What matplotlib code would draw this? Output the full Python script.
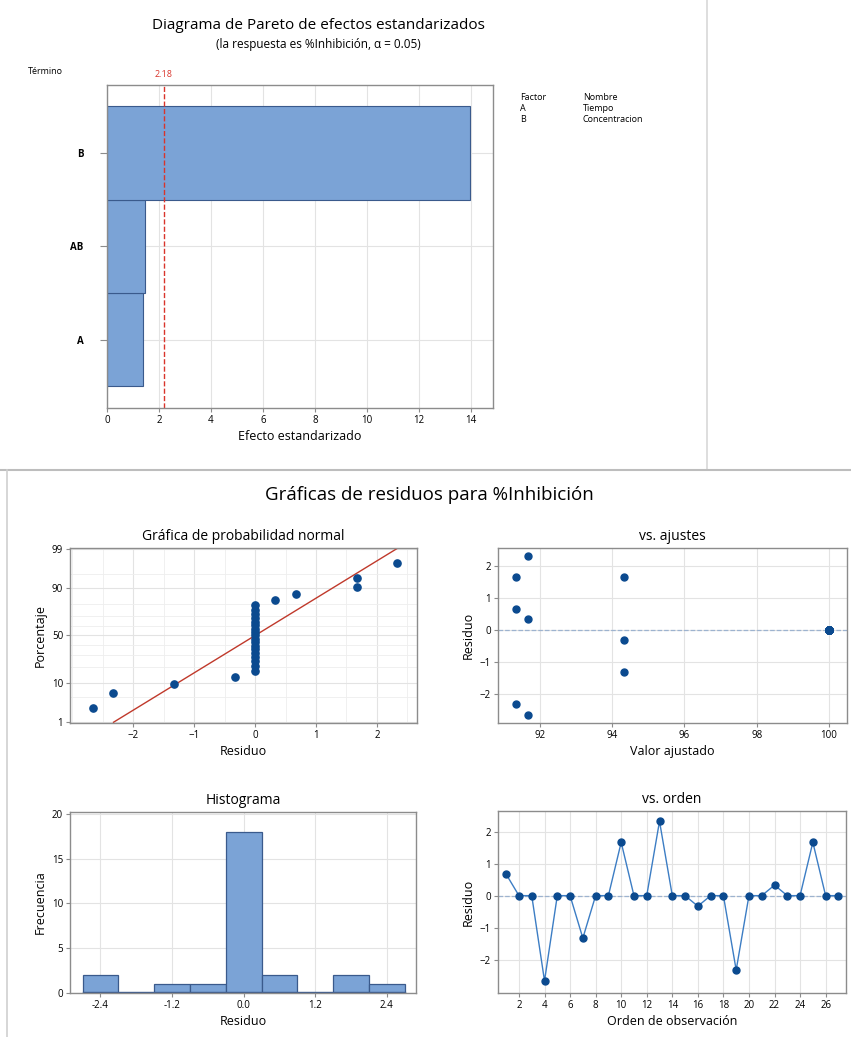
import numpy as np
import matplotlib
matplotlib.use("Agg")
import matplotlib.pyplot as plt
from matplotlib.lines import Line2D
from statistics import NormalDist

plt.rcParams['font.family'] = ['Open Sans', 'DejaVu Sans']

# Pareto data
terms = ['A', 'AB', 'B']
effects = [1.38, 1.45, 13.95]
t_crit = 2.18

# residuals in observation order (27 runs)
residuals = [0.67, 0.0, 0.0, -2.67, 0.0, 0.0, -1.33, 0.0, 0.0,
             1.67, 0.0, 0.0, 2.33, 0.0, 0.0, -0.33, 0.0, 0.0,
             -2.33, 0.0, 0.0, 0.33, 0.0, 0.0, 1.67, 0.0, 0.0]
fitted = [91.33, 100.0, 100.0, 91.67, 100.0, 100.0, 94.33, 100.0, 100.0,
          91.33, 100.0, 100.0, 91.67, 100.0, 100.0, 94.33, 100.0, 100.0,
          91.33, 100.0, 100.0, 91.67, 100.0, 100.0, 94.33, 100.0, 100.0]
order = list(range(1, 28))

# histogram (bin centres and counts as read)
hist_centers = [-2.4, -1.8, -1.2, -0.6, 0.0, 0.6, 1.2, 1.8, 2.4]
hist_counts = [2, 0, 1, 1, 18, 2, 0, 2, 1]

bar_col = '#7BA3D6'
edge_col = '#3A5A8C'
pt_col = '#0B4A8F'
grid_col = '#E3E3E3'
spine_col = '#8C8C8C'

fig = plt.figure(figsize=(8.51, 10.37), dpi=100)

def style(ax):
    for s in ax.spines.values():
        s.set_color(spine_col)
        s.set_linewidth(1.0)
    ax.tick_params(labelsize=7, length=3, color=spine_col, pad=2)
    ax.grid(True, color=grid_col, linewidth=0.8)
    ax.set_axisbelow(True)

# ---- Pareto chart ----
ax0 = fig.add_axes([0.1257, 0.6066, 0.4536, 0.3115])
ax0.barh(range(len(terms)), effects, height=1.0, color=bar_col,
         edgecolor=edge_col, linewidth=0.8)
ax0.axvline(t_crit, color='#D9342B', linestyle='--', linewidth=1.0)
ax0.set_xlim(0, 14.85)
ax0.set_ylim(-0.73, 2.73)
ax0.set_xticks(range(0, 15, 2))
ax0.set_yticks(range(len(terms)))
ax0.set_yticklabels(terms, fontweight='bold')
style(ax0)
ax0.tick_params(axis='y', length=5, pad=12)
ax0.set_xlabel('Efecto estandarizado', fontsize=9, labelpad=3)
ax0.text(t_crit, 2.79, '2.18', color='#D9342B', fontsize=6.5,
         ha='center', va='bottom')
fig.text(0.374, 0.975, 'Diagrama de Pareto de efectos estandarizados',
         ha='center', va='center', fontsize=11)
fig.text(0.374, 0.957, '(la respuesta es %Inhibición, α = 0.05)',
         ha='center', va='center', fontsize=8.5)
fig.text(0.033, 0.931, 'Término', fontsize=6.5, va='center')
legend_rows = [('Factor', 'Nombre'), ('A', 'Tiempo'), ('B', 'Concentracion')]
for i, (f, n) in enumerate(legend_rows):
    y = 1 - (100 + 11 * i) / 1037
    fig.text(0.611, y, f, fontsize=6.5, va='baseline')
    fig.text(0.685, y, n, fontsize=6.5, va='baseline')

# panel borders
fig.add_artist(Line2D([707 / 851, 707 / 851], [1 - 470 / 1037, 1], color='#D8D8D8', lw=1.2))
fig.add_artist(Line2D([0, 1], [1 - 470 / 1037, 1 - 470 / 1037], color='#BDBDBD', lw=1.5))
fig.add_artist(Line2D([7 / 851, 7 / 851], [0, 1 - 470 / 1037], color='#D0D0D0', lw=1.2))

fig.text(0.505, 1 - 495 / 1037, 'Gráficas de residuos para %Inhibición',
         ha='center', va='center', fontsize=13.5)

# ---- Normal probability plot ----
nd = NormalDist()
res = np.array(residuals)
n = len(res)
srt = np.sort(res)
probs = (np.arange(1, n + 1) - 0.3) / (n + 0.4)
z = np.array([nd.inv_cdf(p) for p in probs])
ax1 = fig.add_axes([0.0823, 0.3028, 0.4078, 0.1688])
zlo, zhi = nd.inv_cdf(0.01), nd.inv_cdf(0.99)
mu, sd = res.mean(), res.std(ddof=1)
zz = np.array([zlo, zhi])
ax1.plot(mu + sd * zz, zz, color='#C0392B', linewidth=1.0, zorder=2)
ax1.plot(srt, z, 'o', color=pt_col, markersize=5.2, zorder=3)
ax1.set_xlim(-3.04, 2.66)
ax1.set_ylim(zlo - 0.02, zhi + 0.02)
pct_ticks = [1, 10, 50, 90, 99]
ax1.set_yticks([nd.inv_cdf(p / 100) for p in pct_ticks])
ax1.set_yticklabels([str(p) for p in pct_ticks])
ax1.set_yticks([nd.inv_cdf(p / 100) for p in [5, 20, 30, 40, 60, 70, 80, 95]], minor=True)
ax1.set_xticks([-2, -1, 0, 1, 2])
ax1.set_xticks(np.arange(-3, 2.6, 0.5), minor=True)
style(ax1)
ax1.grid(True, which='minor', color='#EEEEEE', linewidth=0.6)
ax1.tick_params(which='minor', length=0)
ax1.set_title('Gráfica de probabilidad normal', fontsize=10, pad=6)
ax1.set_xlabel('Residuo', fontsize=9, labelpad=3)
ax1.set_ylabel('Porcentaje', fontsize=9, labelpad=4)

# ---- vs fits ----
ax2 = fig.add_axes([0.5852, 0.3028, 0.4101, 0.1688])
ax2.axhline(0, color='#9DB3CF', linestyle='--', linewidth=0.9, zorder=1)
ax2.plot(fitted, residuals, 'o', color=pt_col, markersize=5, zorder=3)
ax2.set_xlim(90.84, 100.5)
ax2.set_ylim(-2.92, 2.57)
ax2.set_xticks([92, 94, 96, 98, 100])
ax2.set_yticks([-2, -1, 0, 1, 2])
style(ax2)
ax2.set_title('vs. ajustes', fontsize=10, pad=6)
ax2.set_xlabel('Valor ajustado', fontsize=9, labelpad=3)
ax2.set_ylabel('Residuo', fontsize=9, labelpad=4)

# ---- Histogram ----
ax3 = fig.add_axes([0.0823, 0.0424, 0.4066, 0.1745])
ax3.bar(hist_centers, hist_counts, width=0.6, color=bar_col,
        edgecolor=edge_col, linewidth=0.9)
ax3.plot([hist_centers[0] - 0.3, hist_centers[-1] + 0.3], [0.1, 0.1],
         color=edge_col, linewidth=1.0)
ax3.set_xlim(-2.91, 2.89)
ax3.set_ylim(0, 20.2)
ax3.set_xticks([-2.4, -1.2, 0.0, 1.2, 2.4])
ax3.set_xticklabels(['-2.4', '-1.2', '0.0', '1.2', '2.4'])
ax3.set_yticks([0, 5, 10, 15, 20])
style(ax3)
ax3.set_title('Histograma', fontsize=10, pad=6)
ax3.set_xlabel('Residuo', fontsize=9, labelpad=3)
ax3.set_ylabel('Frecuencia', fontsize=9, labelpad=4)

# ---- vs order ----
ax4 = fig.add_axes([0.5852, 0.0424, 0.409, 0.1755])
ax4.axhline(0, color='#9DB3CF', linestyle='--', linewidth=0.9, zorder=1)
ax4.plot(order, residuals, '-', color='#3C7DC4', linewidth=1.0, zorder=2)
ax4.plot(order, residuals, 'o', color=pt_col, markersize=5, zorder=3)
ax4.set_xlim(0.36, 27.6)
ax4.set_ylim(-3.05, 2.65)
ax4.set_xticks(range(2, 27, 2))
ax4.set_yticks([-2, -1, 0, 1, 2])
style(ax4)
ax4.set_title('vs. orden', fontsize=10, pad=6)
ax4.set_xlabel('Orden de observación', fontsize=9, labelpad=3)
ax4.set_ylabel('Residuo', fontsize=9, labelpad=4)

fig.savefig('out.png', dpi=100)
